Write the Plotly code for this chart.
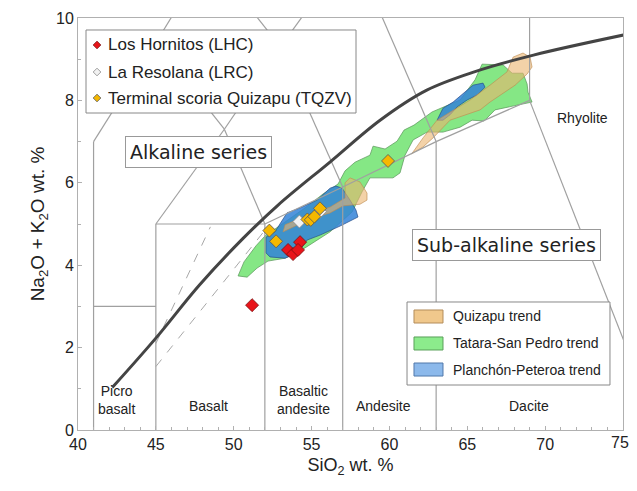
import plotly.graph_objects as go

# ---------------- data ----------------
# TAS classification boundaries (segments separated by None)
tas_x = [41, 41, None, 41, 45, None, 45, 45, None, 45, 52, None, 52, 52, None, 52, 57, None,
         57, 57, None, 57, 63, None, 63, 63, None, 63, 69, None, 69, 77.3, None, 69, 69, None,
         45, 49.4, None, 49.4, 52, None, 49.4, 53, None, 53, 57, None, 53, 57.6, None,
         57.6, 63, None, 41, 45, None, 45, 49.4, None, 45, 48.4, None, 48.4, 53]
tas_y = [0, 7, None, 3, 3, None, 0, 5, None, 5, 5, None, 0, 5, None, 5, 5.9, None,
         0, 5.9, None, 5.9, 7, None, 0, 7, None, 7, 8, None, 8, 0, None, 8, 13, None,
         5, 7.3, None, 7.3, 5, None, 7.3, 9.3, None, 9.3, 5.9, None, 9.3, 11.7, None,
         11.7, 7, None, 7, 9.4, None, 9.4, 7.3, None, 9.4, 11.5, None, 11.5, 9.3]

dash_x = [45, 48.5, None, 45, 52.05]
dash_y = [2.1, 4.93, None, 1.54, 4.87]

# Alkaline / sub-alkaline divide
ib_x = [42.2, 45, 47.8, 50.6, 52.85, 56.2, 59.4, 62.4, 65.5, 69.25, 75.2]
ib_y = [1.03, 2.23, 3.52, 4.65, 5.46, 6.51, 7.52, 8.25, 8.7, 9.1, 9.6]

# Tatara-San Pedro trend
tsp_x = [50.28, 50.66, 51.43, 52.01, 53.30, 54.58, 55.74, 56.70, 57.15, 57.79, 58.75, 58.95,
         59.72, 60.49, 60.94, 61.58, 62.74, 63.44, 64.54, 65.50, 65.95, 67.30, 67.88, 68.58,
         68.84, 68.90, 69.16, 68.52, 66.78, 66.08, 65.31, 64.54, 63.44, 62.42, 61.52, 61.00,
         60.68, 60.23, 58.75, 58.24, 57.60, 56.19, 54.58, 53.30, 52.20, 51.50, 50.86, 50.28]
tsp_y = [3.74, 4.08, 4.47, 4.71, 5.05, 5.39, 5.73, 5.97, 6.29, 6.50, 6.67, 6.89,
         6.82, 7.01, 7.28, 7.40, 7.72, 7.84, 8.01, 8.50, 8.88, 8.86, 8.66, 8.66,
         8.40, 8.20, 7.96, 7.91, 7.77, 7.50, 7.52, 7.35, 7.23, 7.23, 7.04, 6.67,
         6.24, 6.12, 6.12, 5.78, 5.29, 4.81, 4.42, 4.17, 4.10, 3.93, 3.71, 3.74]

# Planchón-Peteroa trend (two bodies)
pp_x = [56.57, 56.96, 57.47, 57.85, 57.98, 56.83, 55.54, 54.71, 54.13, 53.30, 52.33, 52.07,
        52.07, 52.65, 53.42, 54.26, 55.35, 56.19, 56.57, None,
        63.06, 63.44, 64.09, 65.37, 66.01, 66.14, 65.63, 64.99, 64.34, 63.89, 63.44, 63.06]
pp_y = [5.92, 5.87, 5.58, 5.34, 5.17, 4.95, 4.73, 4.61, 4.30, 4.17, 4.20, 4.30,
        4.68, 4.81, 5.27, 5.39, 5.58, 5.87, 5.92, None,
        7.52, 7.81, 7.96, 8.37, 8.42, 8.32, 8.13, 8.01, 7.84, 7.65, 7.52, 7.52]

# Quizapu trend (two bodies)
qz_x = [53.30, 55.09, 56.19, 57.15, 57.15, 57.47, 58.11, 58.56, 58.56, 58.11, 57.02, 56.19,
        54.90, 53.62, 53.17, 53.30, None,
        61.52, 62.16, 63.06, 63.89, 65.18, 66.46, 67.55, 67.94, 68.58, 69.03, 69.16, 68.84,
        68.07, 66.46, 65.82, 63.89, 62.80, 62.16, 61.40, 61.52]
qz_y = [4.98, 5.27, 5.41, 5.63, 6.00, 6.12, 6.02, 5.75, 5.58, 5.48, 5.44, 5.27,
        5.12, 4.88, 4.81, 4.98, None,
        6.75, 7.09, 7.52, 7.72, 8.01, 8.37, 8.69, 9.05, 9.15, 9.05, 8.81, 8.64,
        8.37, 7.96, 7.77, 7.52, 7.09, 6.87, 6.70, 6.75]

# Samples
lhc_x = [54.26, 53.49, 53.81, 54.13, 51.18]
lhc_y = [4.56, 4.37, 4.27, 4.37, 3.03]
lrc_x = [54.22, 55.54]
lrc_y = [5.06, 5.30]
tqzv_x = [52.29, 52.72, 54.73, 54.95, 55.18, 55.54, 59.91]
tqzv_y = [4.84, 4.58, 5.11, 5.10, 5.18, 5.38, 6.53]

x_tickvals = [40, 45, 50, 55, 60, 65, 70, 75]
x_ticktext = ["40", "45", "50", "55", "60", "65", "70", ""]   # last label drawn separately (edge)
last_x_label = "75"

field_labels = ["Picro<br>basalt", "Basalt", "Basaltic<br>andesite", "Andesite", "Dacite", "Rhyolite"]
field_x = [42.5, 48.4, 54.45, 59.6, 68.97, 72.43]
field_y = [0.73, 0.58, 0.73, 0.58, 0.58, 7.57]

sample_names = ["Los Hornitos (LHC)", "La Resolana (LRC)", "Terminal scoria Quizapu (TQZV)"]
sample_fill = ["#e8141a", "#f2f2f2", "#f5b800"]
sample_edge = ["#7a1010", "#888888", "#555555"]

trend_names = ["Quizapu trend", "Tatara-San Pedro trend", "Planchón-Peteroa trend"]
trend_swatch = ["rgb(240,200,140)", "rgb(140,235,140)", "rgb(140,185,235)"]
trend_swatch_edge = ["rgb(180,140,90)", "rgb(90,160,90)", "rgb(80,120,170)"]

ARIAL = "Liberation Sans, Arial, sans-serif"
VERD = "DejaVu Sans, Verdana, sans-serif"
fig = go.Figure()

# trend polygons
fig.add_trace(go.Scatter(x=tsp_x, y=tsp_y, fill="toself", mode="lines",
                         fillcolor="rgba(120,228,120,0.9)", line=dict(color="rgba(90,150,90,0.9)", width=0.8),
                         name=trend_names[1], showlegend=False, hoverinfo="skip"))
fig.add_trace(go.Scatter(x=pp_x, y=pp_y, fill="toself", mode="lines",
                         fillcolor="rgba(50,130,215,0.85)", line=dict(color="rgba(40,80,140,0.9)", width=0.8),
                         name=trend_names[2], showlegend=False, hoverinfo="skip"))
fig.add_trace(go.Scatter(x=qz_x, y=qz_y, fill="toself", mode="lines",
                         fillcolor="rgba(235,180,110,0.6)", line=dict(color="rgba(190,140,80,0.8)", width=0.8),
                         name=trend_names[0], showlegend=False, hoverinfo="skip"))

# TAS lines
fig.add_trace(go.Scatter(x=tas_x, y=tas_y, mode="lines", line=dict(color="#a0a0a0", width=1.2),
                         showlegend=False, hoverinfo="skip"))
fig.add_trace(go.Scatter(x=dash_x, y=dash_y, mode="lines", line=dict(color="#a8a8a8", width=1, dash="dash"),
                         showlegend=False, hoverinfo="skip"))
fig.add_trace(go.Scatter(x=ib_x, y=ib_y, mode="lines", line=dict(color="#444444", width=3, shape="spline"),
                         showlegend=False, hoverinfo="skip"))

# samples
for xs, ys, nm, fc, ec in zip([lhc_x, lrc_x, tqzv_x], [lhc_y, lrc_y, tqzv_y],
                              sample_names, sample_fill, sample_edge):
    fig.add_trace(go.Scatter(x=xs, y=ys, mode="markers", name=nm, showlegend=False,
                             marker=dict(symbol="diamond", size=10, color=fc, line=dict(color=ec, width=0.8))))

for t, x, y in zip(field_labels, field_x, field_y):
    fig.add_annotation(x=x, y=y, text=t, showarrow=False, font=dict(family=ARIAL, size=14, color="#222"))

fig.add_annotation(x=47.71, y=6.75, text="Alkaline series", showarrow=False,
                   font=dict(family=VERD, size=19, color="#222"),
                   bgcolor="white", bordercolor="#999", borderwidth=1, borderpad=4)
fig.add_annotation(x=67.49, y=4.49, text="Sub-alkaline series", showarrow=False,
                   font=dict(family=VERD, size=19, color="#222"),
                   bgcolor="white", bordercolor="#999", borderwidth=1, borderpad=4)

# last x tick label, nudged so it stays inside the page
fig.add_annotation(x=x_tickvals[-1], xref="x", y=0, yref="paper", text=last_x_label, showarrow=False,
                   xanchor="center", yanchor="middle", xshift=-3, yshift=-12,
                   font=dict(family=ARIAL, size=16, color="#222"))

# ---- legend 1 (samples), drawn in paper coordinates ----
fig.add_shape(type="rect", xref="paper", yref="paper", x0=0.0147, x1=0.5101, y0=0.7694, y1=0.9709,
              fillcolor="white", line=dict(color="#888", width=1), layer="above")
leg1_y = [0.9345, 0.8689, 0.8058]
dx, dy = 0.0070, 0.0093
for yy, nm, fc, ec in zip(leg1_y, sample_names, sample_fill, sample_edge):
    cx = 0.0349
    fig.add_shape(type="path", xref="paper", yref="paper",
                  path=f"M {cx},{yy+dy} L {cx+dx},{yy} L {cx},{yy-dy} L {cx-dx},{yy} Z",
                  fillcolor=fc, line=dict(color=ec, width=0.8), layer="above")
    fig.add_annotation(xref="paper", yref="paper", x=0.0505, y=yy, text=nm, showarrow=False,
                       xanchor="left", yanchor="middle", font=dict(family=ARIAL, size=17, color="#222"))

# ---- legend 2 (trends) ----
fig.add_shape(type="rect", xref="paper", yref="paper", x0=0.6037, x1=0.9761, y0=0.1092, y1=0.3107,
              fillcolor="white", line=dict(color="#888", width=1), layer="above")
leg2_y = [0.2755, 0.2100, 0.1468]
for yy, nm, fc, ec in zip(leg2_y, trend_names, trend_swatch, trend_swatch_edge):
    fig.add_shape(type="rect", xref="paper", yref="paper", x0=0.6165, x1=0.6697, y0=yy - 0.0158, y1=yy + 0.0158,
                  fillcolor=fc, line=dict(color=ec, width=1), layer="above")
    fig.add_annotation(xref="paper", yref="paper", x=0.6845, y=yy, text=nm, showarrow=False,
                       xanchor="left", yanchor="middle", font=dict(family=ARIAL, size=14, color="#222"))

axis_common = dict(showline=True, linecolor="#b0b0b0", linewidth=1, mirror=True, showgrid=False,
                   zeroline=False, ticks="inside", ticklen=4, tickcolor="#b0b0b0", automargin=False,
                   tickfont=dict(family=ARIAL, size=16, color="#222"))
fig.update_xaxes(range=[40, 75], tickmode="array", tickvals=x_tickvals, ticktext=x_ticktext,
                 minor=dict(dtick=1, tick0=40, ticks="inside", ticklen=3, tickcolor="#b0b0b0"),
                 title=dict(text="SiO<sub>2</sub> wt. %", font=dict(family=ARIAL, size=18, color="#222"), standoff=6),
                 **axis_common)
fig.update_yaxes(range=[0, 10], tick0=0, dtick=2,
                 minor=dict(dtick=1, ticks="inside", ticklen=3, tickcolor="#b0b0b0"),
                 title=dict(text="Na<sub>2</sub>O + K<sub>2</sub>O wt. %", font=dict(family=ARIAL, size=19, color="#222"), standoff=6),
                 **axis_common)

# the page adds an 8 px body margin, so the figure is sized to fit inside the 637x491 window
fig.update_layout(
    width=629, height=471, margin=dict(l=70, r=14, t=10, b=49),
    plot_bgcolor="white", paper_bgcolor="white", showlegend=False,
)

fig.write_html("out.html")
